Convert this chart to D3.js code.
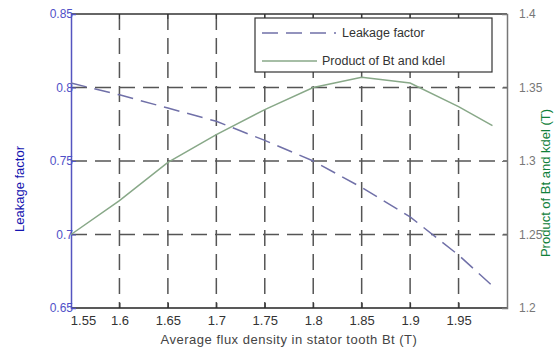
<!DOCTYPE html>
<html><head><meta charset="utf-8">
<script src="https://cdn.jsdelivr.net/npm/d3@7"></script>
<style>body{margin:0;background:#fff}svg{display:block}text{font-family:"Liberation Sans",Arial,sans-serif}</style>
</head><body><svg id="c" width="560" height="347"></svg>
<script>
const xVals = [1.55,1.6,1.65,1.7,1.75,1.8,1.85,1.9,1.95,1.985];
const leakage = [0.803,0.795,0.786,0.777,0.764,0.750,0.732,0.712,0.686,0.665];
const product = [1.250,1.273,1.299,1.318,1.335,1.350,1.357,1.353,1.337,1.324];
const xTicks = [1.55,1.6,1.65,1.7,1.75,1.8,1.85,1.9,1.95];
const yLeftTicks = [0.65,0.7,0.75,0.8,0.85];
const yRightTicks = [1.2,1.25,1.3,1.35,1.4];
const legendLabels = ["Leakage factor","Product of Bt and kdel"];

const svg = d3.select("#c");
const L=71,R=507,T=14,B=308;
const x = d3.scaleLinear().domain([1.55,2.0]).range([L,R]);
const yL = d3.scaleLinear().domain([0.65,0.85]).range([B,T]);
const yR = d3.scaleLinear().domain([1.2,1.4]).range([B,T]);

// grid
const g = svg.append("g");
g.selectAll("line.vg").data(xTicks.slice(1)).enter().append("line")
  .attr("x1",d=>x(d)).attr("x2",d=>x(d)).attr("y1",T).attr("y2",B)
  .attr("stroke","#555").attr("stroke-width",1.5).attr("stroke-dasharray","16,8");
g.selectAll("line.hg").data(yLeftTicks.slice(1,-1)).enter().append("line")
  .attr("x1",L).attr("x2",R).attr("y1",d=>yL(d)).attr("y2",d=>yL(d))
  .attr("stroke","#555").attr("stroke-width",1.5).attr("stroke-dasharray","16,8");

// frame
svg.append("line").attr("x1",L).attr("x2",R).attr("y1",T).attr("y2",T).attr("stroke","#333").attr("stroke-width",1.5);
svg.append("line").attr("x1",L).attr("x2",R).attr("y1",B).attr("y2",B).attr("stroke","#222").attr("stroke-width",1.5);

// x axis
const xa = svg.append("g").attr("transform",`translate(0,${B})`)
  .call(d3.axisBottom(x).tickValues(xTicks).tickSize(-5).tickPadding(8).tickFormat(d3.format("")));
xa.select(".domain").remove();
xa.selectAll("line").attr("stroke","#333");
xa.selectAll("text").attr("font-size",13).attr("fill","#333")
  .attr("dx",(d,i)=>i===0?12:0);
// top ticks
svg.selectAll("line.tt").data(xTicks.slice(1)).enter().append("line")
  .attr("x1",d=>x(d)).attr("x2",d=>x(d)).attr("y1",T).attr("y2",T+5).attr("stroke","#333");

// left axis
const la = svg.append("g").attr("transform",`translate(${L},0)`)
  .call(d3.axisLeft(yL).tickValues(yLeftTicks).tickSize(-5).tickPadding(-2).tickFormat(d3.format("")));
la.select(".domain").attr("stroke","#5555c0").attr("stroke-width",1.5);
la.selectAll("line").attr("stroke","#5555c0");
la.selectAll("text").attr("font-size",12).attr("fill","#5050c8");

// right axis
const ra = svg.append("g").attr("transform",`translate(${R},0)`)
  .call(d3.axisRight(yR).tickValues(yRightTicks).tickSize(-5).tickPadding(12).tickFormat(d3.format("")));
ra.select(".domain").attr("stroke","#777").attr("stroke-width",1.5);
ra.selectAll("line").attr("stroke","#777");
ra.selectAll("text").attr("font-size",12).attr("fill","#777");

// lines
svg.append("path").datum(xVals.map((v,i)=>[v,leakage[i]]))
  .attr("d",d3.line().x(d=>x(d[0])).y(d=>yL(d[1])))
  .attr("fill","none").attr("stroke","#7070a8").attr("stroke-width",1.5).attr("stroke-dasharray","16,8");
svg.append("path").datum(xVals.map((v,i)=>[v,product[i]]))
  .attr("d",d3.line().x(d=>x(d[0])).y(d=>yR(d[1])))
  .attr("fill","none").attr("stroke","#88a888").attr("stroke-width",1.5);

// legend
const lg = svg.append("g");
lg.append("rect").attr("x",255).attr("y",18).attr("width",237).attr("height",54)
  .attr("fill","#fff").attr("stroke","#333").attr("stroke-width",1.2);
lg.append("line").attr("x1",262).attr("x2",336).attr("y1",33).attr("y2",33)
  .attr("stroke","#7070a8").attr("stroke-width",1.5).attr("stroke-dasharray","16,8");
lg.append("line").attr("x1",262).attr("x2",317).attr("y1",61).attr("y2",61)
  .attr("stroke","#88a888").attr("stroke-width",1.5);
lg.append("text").attr("x",342).attr("y",37).attr("font-size",12.5).attr("fill","#333").text(legendLabels[0]);
lg.append("text").attr("x",322).attr("y",65).attr("font-size",12.5).attr("fill","#333").text(legendLabels[1]);

// axis titles
svg.append("text").attr("x",289).attr("y",344).attr("text-anchor","middle")
  .attr("font-size",13).attr("fill","#444").attr("letter-spacing",0.5).text("Average flux density in stator tooth Bt (T)");
svg.append("text").attr("transform","translate(24,189) rotate(-90)").attr("text-anchor","middle")
  .attr("font-size",13).attr("fill","#1515b0").text("Leakage factor");
svg.append("text").attr("transform","translate(550,183) rotate(-90)").attr("text-anchor","middle")
  .attr("font-size",13).attr("fill","#10803a").text("Product of Bt and kdel (T)");
</script></body></html>
